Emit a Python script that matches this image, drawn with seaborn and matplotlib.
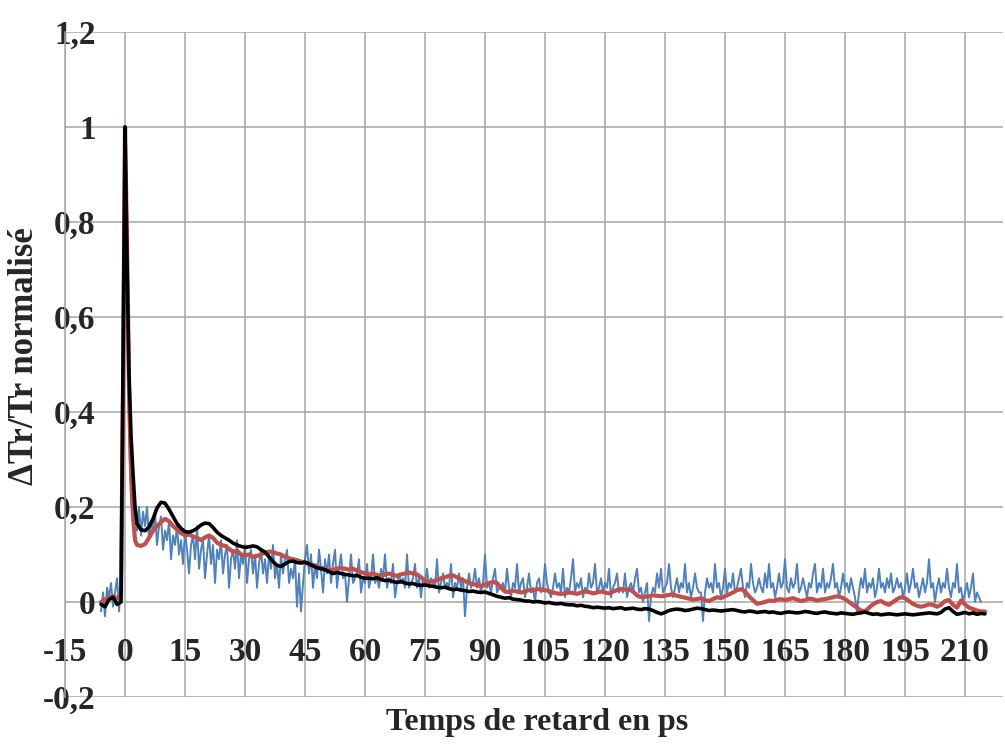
import matplotlib
matplotlib.use("Agg")
import matplotlib.pyplot as plt
import seaborn as sns
from matplotlib.ticker import FuncFormatter

sns.set_style("white")
plt.rcParams["font.family"] = ["Liberation Serif", "DejaVu Serif"]
plt.rcParams["axes.unicode_minus"] = False

# delay grid (ps) for the smoothed curves: 1 ps steps, 0.5 ps on the peak
t = list(range(-6, 0)) + [-0.5, 0, 0.5, 1, 1.5, 2, 2.5, 3] + list(range(4, 216))
# raw trace sampled every 0.5 ps, -6 .. 214
t_blue = [i / 2 for i in range(-12, 429)]

# blue: raw noisy trace (one row = 10 ps)
blue = [
    -0.02, 0.02, -0.03, 0.03, 0.01, 0.04, -0.01, 0.02, 0.05, -0.02, 0.04, 0.3, 0.9, 0.6, 0.35, 0.22, 0.17, 0.19, 0.15, 0.2,
    0.14, 0.19, 0.16, 0.2, 0.13, 0.17, 0.15, 0.19, 0.12, 0.16, 0.18, 0.11, 0.15, 0.13, 0.17, 0.09, 0.14, 0.12, 0.16, 0.1,
    0.13, 0.08, 0.15, 0.11, 0.06, 0.12, 0.14, 0.09, 0.16, 0.07, 0.11, 0.13, 0.05, 0.1, 0.14, 0.08, 0.12, 0.04, 0.11, 0.09,
    0.13, 0.06, 0.1, 0.12, 0.03, 0.09, 0.11, 0.07, 0.13, 0.05, 0.1, 0.08, 0.12, 0.04, 0.09, 0.11, 0.06, 0.1, 0.03, 0.08,
    0.11, 0.06, 0.09, 0.04, 0.1, 0.07, 0.12, 0.05, 0.08, 0.03, 0.1, 0.06, 0.09, 0.11, 0.04, 0.07, 0.05, 0.09, -0.01, 0.06,
    -0.02, 0.04, 0.09, 0.12, 0.06, 0.1, 0.03, 0.08, 0.05, 0.11, 0.07, 0.02, 0.09, 0.06, 0.1, 0.04, 0.08, 0.11, 0.03, 0.07,
    0.1, 0.05, 0.06, 0.0, 0.05, 0.1, 0.04, 0.05, 0.06, 0.09, 0.02, 0.05, 0.04, 0.08, 0.03, 0.05, 0.1, 0.04, 0.05, 0.03,
    0.07, 0.05, 0.1, 0.03, 0.05, 0.04, 0.08, 0.01, 0.04, 0.06, 0.04, 0.05, 0.03, 0.1, 0.03, 0.04, 0.05, 0.08, 0.03, 0.05,
    0.01, 0.05, 0.04, 0.07, 0.03, 0.05, 0.04, 0.03, 0.09, 0.02, 0.04, 0.06, 0.03, 0.04, 0.03, 0.08, 0.01, 0.04, 0.03, 0.06,
    0.03, 0.05, -0.03, 0.03, 0.06, 0.03, 0.04, 0.07, 0.03, 0.05, 0.02, 0.04, 0.1, 0.03, 0.04, 0.02, 0.05, 0.07, 0.02, 0.03,
    0.03, 0.04, 0.02, 0.07, 0.03, 0.01, 0.04, 0.03, 0.08, 0.02, 0.04, 0.05, 0.01, 0.03, 0.06, 0.02, 0.03, 0.0, 0.04, 0.05,
    0.02, 0.03, 0.08, 0.04, 0.02, 0.01, 0.03, 0.06, 0.03, 0.04, 0.02, 0.07, 0.01, 0.03, 0.02, 0.05, 0.09, 0.02, 0.04, 0.03,
    0.05, 0.01, 0.03, 0.02, 0.06, 0.03, 0.04, 0.08, 0.02, 0.03, 0.05, 0.02, 0.04, 0.03, 0.07, 0.01, 0.03, 0.04, 0.06, 0.02,
    0.03, 0.02, 0.06, 0.01, 0.03, 0.04, 0.02, 0.05, 0.07, 0.02, 0.03, 0.0, 0.02, 0.04, -0.04, 0.01, 0.03, 0.02, 0.06, 0.03,
    0.07, 0.02, 0.03, 0.04, 0.08, 0.03, 0.01, 0.03, 0.05, 0.02, 0.04, 0.03, 0.08, 0.02, 0.04, 0.01, 0.03, 0.06, 0.03, 0.02,
    0.02, -0.04, 0.02, 0.05, 0.03, 0.04, 0.02, 0.08, 0.03, 0.04, 0.01, 0.03, 0.07, 0.02, 0.04, 0.03, 0.06, 0.02, 0.03, 0.05,
    0.07, 0.03, 0.01, 0.04, 0.03, 0.08, 0.04, 0.02, 0.03, 0.05, 0.03, 0.02, 0.06, 0.03, 0.08, 0.03, 0.04, 0.01, 0.03, 0.06,
    0.03, 0.04, 0.09, 0.03, 0.02, 0.05, 0.03, 0.04, 0.08, 0.02, 0.03, 0.05, 0.03, 0.01, 0.04, 0.03, 0.06, 0.08, 0.02, 0.04,
    0.03, 0.07, 0.02, 0.04, 0.03, 0.05, 0.08, 0.03, 0.04, 0.01, 0.03, 0.06, 0.03, 0.04, 0.02, 0.05, 0.03, 0.01, -0.02, 0.02,
    0.05, 0.03, 0.07, 0.02, 0.04, 0.03, 0.05, 0.01, 0.03, 0.07, 0.03, 0.04, 0.02, 0.05, 0.03, 0.06, 0.02, 0.03, 0.05, 0.03,
    0.04, 0.01, 0.03, 0.06, 0.02, 0.04, 0.07, 0.03, 0.04, 0.01, 0.03, 0.05, 0.02, 0.04, 0.09, 0.03, 0.04, 0.0, 0.03, 0.05,
    0.02, 0.04, 0.03, 0.07, 0.03, 0.01, 0.04, 0.03, 0.08, 0.02, 0.03, 0.0, 0.02, 0.04, 0.01, 0.03, 0.06, 0.0, 0.02, 0.01,
    0.0,
]

# red: smoothed trace
red = [
    0.0, 0.005, 0.01, 0.012, 0.008, 0.01,
    0.45, 1.0, 0.75, 0.45, 0.28, 0.18, 0.13, 0.12,
    0.118, 0.122, 0.135, 0.15, 0.16, 0.168, 0.175, 0.17, 0.16, 0.152, 0.145, 0.14,
    0.142, 0.138, 0.135, 0.13, 0.136, 0.14, 0.135, 0.125, 0.12, 0.118, 0.112, 0.105, 0.108, 0.1, 0.098,
    0.1, 0.095, 0.097, 0.1, 0.104, 0.106, 0.105, 0.102, 0.1, 0.095, 0.092, 0.09, 0.088, 0.085, 0.083,
    0.08, 0.078, 0.075, 0.072, 0.07, 0.066, 0.068, 0.07, 0.072, 0.07, 0.068, 0.07, 0.066, 0.063, 0.06,
    0.058, 0.06, 0.057, 0.055, 0.058, 0.06, 0.057, 0.055, 0.058, 0.06, 0.062, 0.06, 0.058, 0.052, 0.045,
    0.042, 0.044, 0.046, 0.05, 0.052, 0.055, 0.056, 0.052, 0.048, 0.044, 0.04, 0.038, 0.035, 0.034, 0.036,
    0.04, 0.042, 0.04, 0.03, 0.022, 0.021, 0.024, 0.022, 0.02, 0.022, 0.025, 0.024, 0.027, 0.026, 0.025,
    0.023, 0.02, 0.018, 0.017, 0.018, 0.02, 0.019, 0.017, 0.02, 0.022, 0.021, 0.018, 0.02, 0.022, 0.02,
    0.018, 0.022, 0.025, 0.027, 0.026, 0.027, 0.022, 0.014, 0.01, 0.011, 0.012, 0.014, 0.013, 0.012, 0.013,
    0.015, 0.016, 0.013, 0.011, 0.009, 0.007, 0.005, 0.006, 0.008, 0.004, 0.002, 0.006, 0.01, 0.008, 0.012,
    0.016, 0.02, 0.025, 0.027, 0.022, 0.012, 0.004, -0.004, -0.002, 0.0, 0.003, 0.002, 0.005, 0.006, 0.004,
    0.006, 0.008, 0.005, 0.002, 0.004, 0.007, 0.006, 0.003, 0.005, 0.006, 0.008, 0.01, 0.012, 0.01, 0.006,
    0.0, -0.006, -0.012, -0.018, -0.02, -0.012, -0.005, 0.0, 0.002, -0.003, -0.006, 0.0, 0.006, 0.01, 0.008,
    0.002, -0.004, -0.008, -0.01, -0.008, -0.005, -0.006, -0.01, -0.006, 0.002, 0.004, -0.006, -0.012, 0.003, -0.005,
    -0.012, -0.015, -0.018, -0.02, -0.02,
]

# black: model / fit
black = [
    -0.005, -0.01, 0.005, 0.01, -0.005, 0.0,
    0.5, 1.0, 0.72, 0.48, 0.35, 0.27, 0.2, 0.165,
    0.152, 0.15, 0.158, 0.175, 0.198, 0.21, 0.208, 0.195, 0.18, 0.165, 0.155, 0.148,
    0.147, 0.15, 0.155, 0.162, 0.166, 0.165, 0.157, 0.147, 0.14, 0.135, 0.13, 0.124, 0.12, 0.117, 0.115,
    0.116, 0.118, 0.116, 0.11, 0.105, 0.095, 0.085, 0.077, 0.075, 0.08, 0.085, 0.086, 0.083, 0.082, 0.084,
    0.08, 0.076, 0.072, 0.07, 0.068, 0.064, 0.06, 0.062, 0.06, 0.058, 0.057, 0.055, 0.056, 0.052, 0.05,
    0.05, 0.049, 0.051, 0.047, 0.045, 0.046, 0.043, 0.041, 0.043, 0.04, 0.038, 0.039, 0.036, 0.035, 0.036,
    0.034, 0.033, 0.031, 0.03, 0.031, 0.028, 0.026, 0.027, 0.025, 0.024, 0.022, 0.023, 0.021, 0.02, 0.021,
    0.018, 0.015, 0.012, 0.01, 0.008, 0.009, 0.006, 0.005, 0.004, 0.002, 0.002, 0.0, 0.001, 0.0, -0.002,
    -0.001, -0.003, -0.004, -0.003, -0.005, -0.006, -0.006, -0.008, -0.007, -0.009, -0.01, -0.012, -0.011, -0.012, -0.013,
    -0.012, -0.014, -0.013, -0.012, -0.015, -0.014, -0.013, -0.015, -0.016, -0.014, -0.015, -0.018, -0.022, -0.025, -0.022,
    -0.018, -0.016, -0.015, -0.016, -0.018, -0.017, -0.015, -0.013, -0.014, -0.016, -0.018, -0.017, -0.018, -0.019, -0.018,
    -0.017, -0.016, -0.018, -0.02, -0.021, -0.019, -0.02, -0.022, -0.021, -0.02, -0.022, -0.021, -0.023, -0.024, -0.022,
    -0.021, -0.022, -0.023, -0.022, -0.02, -0.021, -0.023, -0.024, -0.022, -0.021, -0.023, -0.024, -0.025, -0.023, -0.024,
    -0.025, -0.026, -0.024, -0.023, -0.021, -0.024, -0.026, -0.025, -0.027, -0.026, -0.025, -0.026, -0.027, -0.026, -0.025,
    -0.026, -0.027, -0.026, -0.025, -0.024, -0.023, -0.024, -0.025, -0.022, -0.015, -0.012, -0.02, -0.026, -0.024, -0.022,
    -0.025, -0.023, -0.026, -0.024, -0.025,
]

x_ticks = list(range(-15, 211, 15))
y_ticks = [-0.2, 0, 0.2, 0.4, 0.6, 0.8, 1.0, 1.2]

fig = plt.figure(figsize=(10.05, 7.44), dpi=100)
ax = fig.add_axes([0.0647, 0.0632, 0.9333, 0.8938])

sns.lineplot(x=t_blue, y=blue, ax=ax, color="#4F81BD", lw=1.4, estimator=None)
sns.lineplot(x=t, y=red, ax=ax, color="#C0504D", lw=3.0, estimator=None)
sns.lineplot(x=t, y=black, ax=ax, color="black", lw=2.6, estimator=None)

ax.set_xlim(-15, 219.5)
ax.set_ylim(-0.2, 1.2)
ax.set_xticks(x_ticks)
ax.set_yticks(y_ticks)
ax.yaxis.set_major_formatter(FuncFormatter(lambda v, p: f"{round(v, 1):g}".replace(".", ",")))

ax.grid(True, color="#a6a6a6", lw=1.1)
ax.set_axisbelow(True)
for s in ["top", "right"]:
    ax.spines[s].set_visible(False)
ax.spines["bottom"].set_position(("data", 0))
ax.spines["bottom"].set_visible(False)
ax.spines["left"].set_color("#a6a6a6")
ax.spines["left"].set_linewidth(1.1)

ax.tick_params(axis="x", length=0, pad=25, labelsize=24)
ax.tick_params(axis="y", length=0, pad=-22, labelsize=24)
for lab in ax.get_xticklabels() + ax.get_yticklabels():
    lab.set_fontweight("bold")

ax.set_xlabel("Temps de retard en ps", fontsize=23, fontweight="bold")
ax.xaxis.set_label_coords(0.503, -0.038)
ax.xaxis.label.set_va("center")
ax.set_ylabel("ΔTr/Tr normalisé", fontsize=25, fontweight="bold")
ax.yaxis.set_label_coords(-0.0437, 0.513)
ax.yaxis.label.set_va("center")

fig.savefig("out.png", dpi=100)
